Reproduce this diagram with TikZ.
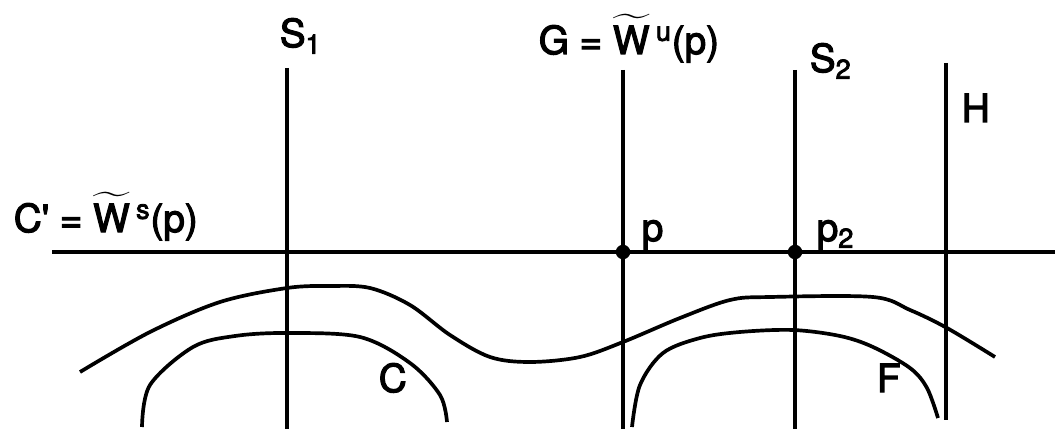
\documentclass[tikz,border=0pt]{standalone}
\usepackage{amsmath}
\usepackage{fontspec}
\setmainfont{TeX Gyre Heros}
\newfontfamily\lblfont{TeX Gyre Heros}[FakeBold=3]
\usepackage{tikz}
\usetikzlibrary{positioning}
\newcommand{\wtilde}{$\widetilde{\text{W}}$}

\begin{document}
\begin{tikzpicture}[x=0.02cm, y=-0.02cm, line width=2.1pt,
    lbl/.style={font=\lblfont\fontsize{22}{26}\selectfont, inner sep=0pt, anchor=base west},
    dot/.style={circle, fill=black, inner sep=0pt, minimum size=0.29cm}]
    \useasboundingbox (0,0) rectangle (1055,429);
    % the horizontal line and the four vertical ones
    \coordinate (cl) at (52,252);   \coordinate (cr) at (1055,252);
    \coordinate (s1t) at (287,68);  \coordinate (s1b) at (287,429);
    \coordinate (gt) at (623,70);   \coordinate (gb) at (623,429);
    \coordinate (s2t) at (795,70);  \coordinate (s2b) at (795,429);
    \coordinate (ht) at (946,63);   \coordinate (hb) at (946,420);
    \draw (cl) -- (cr);
    \draw (s1t) -- (s1b);
    \draw (gt) -- (gb);
    \draw (s2t) -- (s2b);
    \draw (ht) -- (hb);
    \node[dot] (p) at (623,252) {};
    \node[dot] (ptwo) at (795,252) {};
    % labels
    \node[lbl] (lcs) at (12,232) {C\textquotesingle{} = \wtilde\,\textsuperscript{s}(p)};
    \node[lbl] (ls1) at (278,47) {S\textsubscript{1}};
    \node[lbl] (lg) at (537,54) {G = \wtilde\,\textsuperscript{u}(p)};
    \node[lbl] (ls2) at (808,72) {S\textsubscript{2}};
    \node[lbl] (lh) at (960,122) {H};
    \node[lbl] (lp) at (640,241) {p};
    \node[lbl] (lptwo) at (815,241) {p\textsubscript{2}};
    \node[lbl] (lc) at (377,392) {C};
    \node[lbl] (lf) at (875,392) {F};
    % the curves
    \draw plot[smooth, tension=0.55] coordinates {(80,372) (150,332) (220,302) (287,288) (330,286)
      (370,288) (410,305) (450,335) (490,357) (530,362) (580,357) (623,342) (680,318) (730,300)
      (770,297) (873,297) (910,310) (947,328) (995,357)};
    \draw plot[smooth, tension=0.55] coordinates {(142,427) (150,385) (193,347) (235,336) (287,333)
      (360,337) (410,363) (440,395) (447,422)};
    \draw plot[smooth, tension=0.55] coordinates {(632,427) (640,385) (663,353) (700,338) (740,332)
      (793,330) (840,336) (873,347) (910,368) (927,388) (938,418)};
  \end{tikzpicture}
\end{document}
